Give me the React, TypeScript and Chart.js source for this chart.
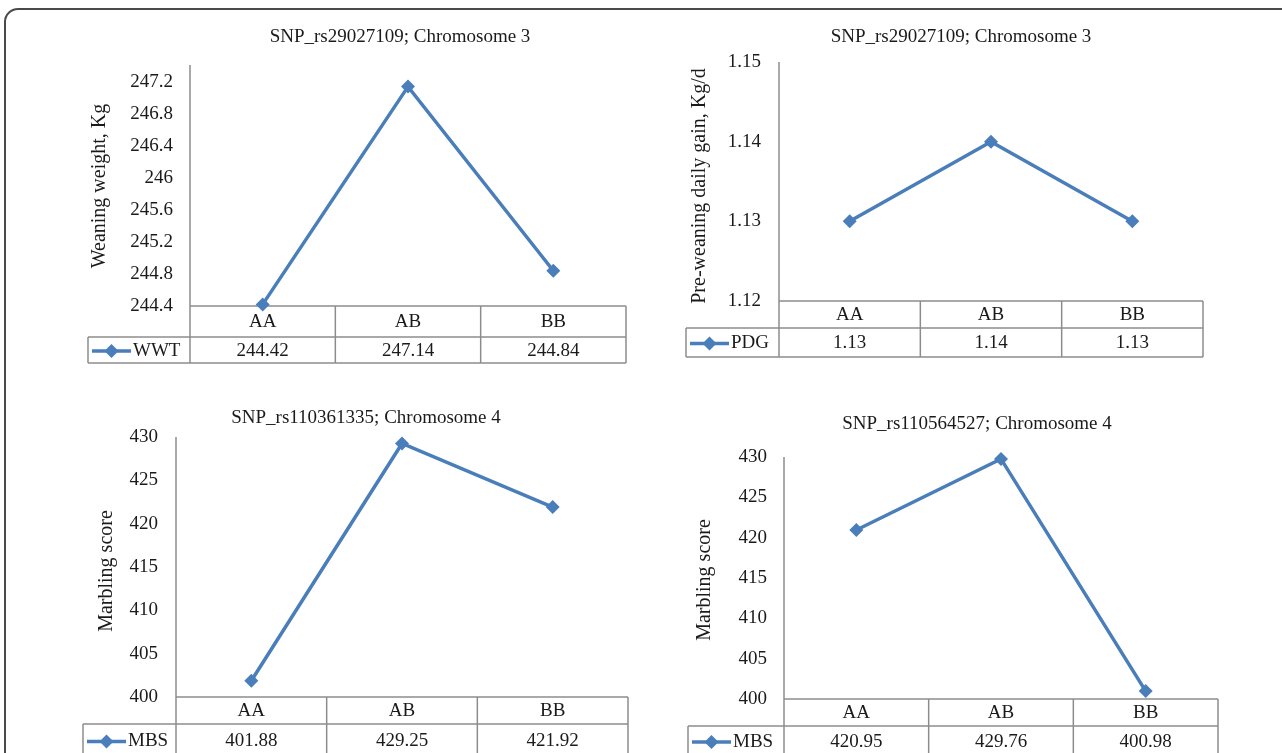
import React, { useEffect, useRef } from "react";
import { Chart, registerables } from "chart.js";

Chart.register(...registerables);

// ---------------- data ----------------
const genotypes = ["AA", "AB", "BB"];

const wwtValues = [244.42, 247.14, 244.84];
const wwtTicks = [244.4, 244.8, 245.2, 245.6, 246, 246.4, 246.8, 247.2];

const pdgValues = [1.13, 1.14, 1.13];
const pdgTicks = [1.12, 1.13, 1.14, 1.15];

const mbsValues110361335 = [401.88, 429.25, 421.92];
const mbsValues110564527 = [420.95, 429.76, 400.98];
const mbsTicks = [400, 405, 410, 415, 420, 425, 430];

// ---------------- style ----------------
const W = 1282;
const H = 753;
const FONT = '"Liberation Serif", "Times New Roman", serif';
const TEXT = "#1a1a1a";
const GRID = "#8c8c8c";
const BLUE = "#4A7EBB";

type Layout = {
  titleX: number; titleY: number; yTitleX: number; yTitleY: number; tickRight: number;
  left: number; top: number; right: number; bottom: number;
  tableLeft: number; headerBottom: number; tableBottom: number;
};

type PanelCfg = {
  title: string; yTitle: string; series: string;
  values: number[]; ticks: number[]; min: number; max: number; layout: Layout;
};

const panels: PanelCfg[] = [
  {
    title: "SNP_rs29027109; Chromosome 3", yTitle: "Weaning weight, Kg", series: "WWT",
    values: wwtValues, ticks: wwtTicks, min: 244.4, max: 247.41,
    layout: { titleX: 400, titleY: 37, yTitleX: 100, yTitleY: 186, tickRight: 173,
      left: 190, top: 65, right: 626, bottom: 306, tableLeft: 88, headerBottom: 337, tableBottom: 363 },
  },
  {
    title: "SNP_rs29027109; Chromosome 3", yTitle: "Pre-weaning daily gain, Kg/d", series: "PDG",
    values: pdgValues, ticks: pdgTicks, min: 1.12, max: 1.15,
    layout: { titleX: 961, titleY: 37, yTitleX: 700, yTitleY: 186, tickRight: 761,
      left: 779, top: 62, right: 1203, bottom: 301, tableLeft: 686, headerBottom: 328, tableBottom: 357 },
  },
  {
    title: "SNP_rs110361335; Chromosome 4", yTitle: "Marbling score", series: "MBS",
    values: mbsValues110361335, ticks: mbsTicks, min: 400, max: 430,
    layout: { titleX: 366, titleY: 418, yTitleX: 107, yTitleY: 571, tickRight: 158,
      left: 176, top: 437, right: 628, bottom: 697, tableLeft: 83, headerBottom: 724, tableBottom: 757 },
  },
  {
    title: "SNP_rs110564527; Chromosome 4", yTitle: "Marbling score", series: "MBS",
    values: mbsValues110564527, ticks: mbsTicks, min: 400, max: 430,
    layout: { titleX: 977, titleY: 424, yTitleX: 705, yTitleY: 580, tickRight: 767,
      left: 784, top: 457, right: 1218, bottom: 699, tableLeft: 688, headerBottom: 726, tableBottom: 756 },
  },
];

function fmtTick(v: number) {
  return String(parseFloat(Number(v).toFixed(4)));
}

function makePlugin(p: PanelCfg) {
  const L = p.layout;
  return {
    id: "tableAndTitles",
    beforeDatasetsDraw(chart: any) {
      const ctx = chart.ctx as CanvasRenderingContext2D;
      ctx.save();
      ctx.strokeStyle = GRID;
      ctx.lineWidth = 1.5;
      const line = (x1: number, y1: number, x2: number, y2: number) => {
        ctx.beginPath();
        ctx.moveTo(x1, y1);
        ctx.lineTo(x2, y2);
        ctx.stroke();
      };
      line(L.left, L.top, L.left, L.tableBottom);
      line(L.left, L.bottom, L.right, L.bottom);
      line(L.right, L.bottom, L.right, L.tableBottom);
      line(L.tableLeft, L.headerBottom, L.right, L.headerBottom);
      line(L.tableLeft, L.tableBottom, L.right, L.tableBottom);
      line(L.tableLeft, L.headerBottom, L.tableLeft, L.tableBottom);
      const xs = chart.scales.x;
      for (let i = 1; i < genotypes.length; i++) {
        const bx = (xs.getPixelForValue(i - 1) + xs.getPixelForValue(i)) / 2;
        line(bx, L.bottom, bx, L.tableBottom);
      }
      ctx.restore();
    },
    afterDraw(chart: any) {
      const ctx = chart.ctx as CanvasRenderingContext2D;
      const xs = chart.scales.x;
      ctx.save();
      ctx.fillStyle = TEXT;
      ctx.textBaseline = "middle";
      // title
      ctx.font = `19px ${FONT}`;
      ctx.textAlign = "center";
      ctx.fillText(p.title, L.titleX, L.titleY);
      // y title
      ctx.save();
      ctx.font = `20px ${FONT}`;
      ctx.translate(L.yTitleX, L.yTitleY);
      ctx.rotate(-Math.PI / 2);
      ctx.fillText(p.yTitle, 0, 0);
      ctx.restore();
      // header row and values row
      const headerY = (L.bottom + L.headerBottom) / 2 + 1;
      const valueY = (L.headerBottom + L.tableBottom) / 2 + 1;
      genotypes.forEach((g, i) => {
        const cx = xs.getPixelForValue(i);
        ctx.fillText(g, cx, headerY);
        ctx.fillText(p.values[i].toFixed(2), cx, valueY);
      });
      // legend key
      const kx1 = L.tableLeft + 4;
      const kx2 = L.tableLeft + 43;
      ctx.strokeStyle = BLUE;
      ctx.lineWidth = 3.5;
      ctx.beginPath();
      ctx.moveTo(kx1, valueY);
      ctx.lineTo(kx2, valueY);
      ctx.stroke();
      const kc = (kx1 + kx2) / 2;
      ctx.fillStyle = BLUE;
      ctx.beginPath();
      ctx.moveTo(kc, valueY - 7);
      ctx.lineTo(kc + 7, valueY);
      ctx.lineTo(kc, valueY + 7);
      ctx.lineTo(kc - 7, valueY);
      ctx.closePath();
      ctx.fill();
      ctx.fillStyle = TEXT;
      ctx.textAlign = "left";
      ctx.fillText(p.series, L.tableLeft + 45, valueY);
      ctx.restore();
    },
  };
}

function Panel({ cfg }: { cfg: PanelCfg }) {
  const ref = useRef<HTMLCanvasElement | null>(null);
  useEffect(() => {
    if (!ref.current) return;
    const L = cfg.layout;
    const yWidth = 100;
    const chart = new Chart(ref.current, {
      type: "line",
      data: {
        labels: genotypes,
        datasets: [
          {
            label: cfg.series,
            data: cfg.values,
            borderColor: BLUE,
            backgroundColor: BLUE,
            borderWidth: 3.5,
            pointStyle: "rectRot",
            pointRadius: 7,
            pointBorderWidth: 0,
            pointBackgroundColor: BLUE,
            tension: 0,
            clip: false,
          },
        ],
      },
      options: {
        responsive: false,
        animation: false,
        devicePixelRatio: 1,
        events: [],
        layout: {
          padding: { left: L.left - yWidth, top: L.top, right: W - L.right, bottom: H - L.bottom },
        },
        plugins: { legend: { display: false }, title: { display: false }, tooltip: { enabled: false } },
        scales: {
          x: { type: "category", offset: true, display: false },
          y: {
            min: cfg.min,
            max: cfg.max,
            afterBuildTicks: (scale: any) => {
              scale.ticks = cfg.ticks.map((v) => ({ value: v }));
            },
            afterFit: (scale: any) => {
              scale.width = yWidth;
            },
            grid: { display: false, drawTicks: false },
            border: { display: false },
            ticks: {
              padding: L.left - L.tickRight,
              color: TEXT,
              font: { family: FONT, size: 19 },
              callback: (v: any) => fmtTick(v),
            },
          },
        },
      } as any,
      plugins: [makePlugin(cfg)],
    });
    return () => chart.destroy();
  }, [cfg]);
  return (
    <canvas
      ref={ref}
      width={W}
      height={H}
      style={{ position: "absolute", left: 0, top: 0, width: W, height: H }}
    />
  );
}

export default function App() {
  return (
    <div
      style={{
        position: "absolute",
        left: 0,
        top: 0,
        width: W,
        height: H,
        overflow: "hidden",
        background: "#ffffff",
      }}
    >
      <div
        style={{
          position: "absolute",
          left: 4,
          top: 8,
          width: 1400,
          height: 900,
          border: "2px solid #4a4a4a",
          borderTopLeftRadius: 14,
          boxSizing: "border-box",
        }}
      />
      {panels.map((p, i) => (
        <Panel key={i} cfg={p} />
      ))}
    </div>
  );
}
